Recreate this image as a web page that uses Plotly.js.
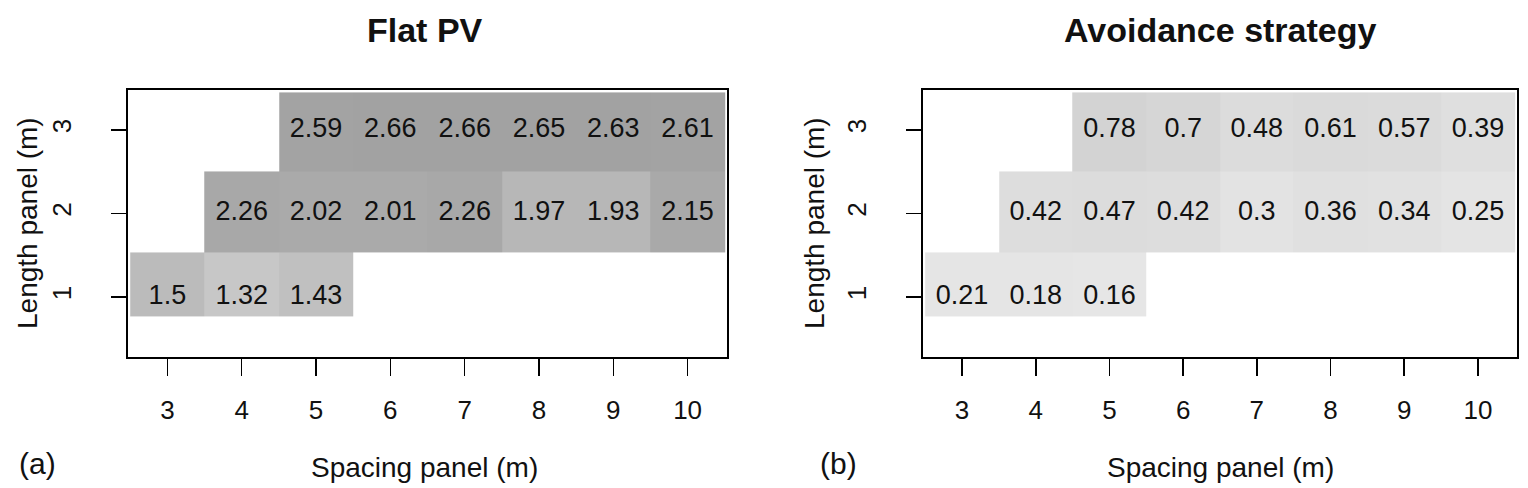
<!DOCTYPE html>
<html>
<head>
<meta charset="utf-8">
<script src="https://cdn.plot.ly/plotly-3.0.1.min.js"></script>
<style>
  html, body { margin: 0; padding: 0; background: #ffffff; }
  #chart { width: 1528px; height: 488px; }
</style>
</head>
<body>
<div id="chart"></div>
<script>
// ---------------- DATA ----------------
const spacing = [3, 4, 5, 6, 7, 8, 9, 10];            // Spacing panel (m)
const lengthRows = [1, 2, 3];                          // Length panel (m)
const xTickLabels = ['3', '4', '5', '6', '7', '8', '9', '10'];
const yTickLabels = ['1', '2', '3'];

const flatPV = [
  [1.5, 1.32, 1.43, null, null, null, null, null],
  [null, 2.26, 2.02, 2.01, 2.26, 1.97, 1.93, 2.15],
  [null, null, 2.59, 2.66, 2.66, 2.65, 2.63, 2.61]
];
const avoidance = [
  [0.21, 0.18, 0.16, null, null, null, null, null],
  [null, 0.42, 0.47, 0.42, 0.3, 0.36, 0.34, 0.25],
  [null, null, 0.78, 0.7, 0.48, 0.61, 0.57, 0.39]
];
const panelTitles = ['Flat PV', 'Avoidance strategy'];
const panelTags = ['(a)', '(b)'];
const xTitle = 'Spacing panel (m)';
const yTitle = 'Length panel (m)';

// ---------------- STYLE / LAYOUT ----------------
const W = 1528, H = 488;
const FONT = 'Liberation Sans, Arial, Helvetica, sans-serif';
const rowEdges = [0.77, 1.53, 2.5, 3.45];   // drawn band limits of the rows
const zMin = 0, zMax = 2.7;
const grayStops = [
  [0.00, '#e9e9e9'], [0.30, '#e3e3e3'], [0.45, '#dcdcdc'], [0.62, '#dadada'],
  [0.76, '#d3d3d3'], [1.30, '#c8c8c8'], [1.50, '#bbbbbb'], [1.97, '#b7b7b7'],
  [2.00, '#aaaaaa'], [2.30, '#a8a8a8'], [2.60, '#a3a3a3'], [2.70, '#a1a1a1']
];
const colorscale = grayStops.map(s => [(s[0] - zMin) / (zMax - zMin), s[1]]);

const px = v => v / W;
const py = v => 1 - v / H;
const panels = [
  { z: flatPV,    xd: [128, 727], cx: 425, ylx: 27,  tag: 37 },
  { z: avoidance, xd: [923, 1517], cx: 1220, ylx: 814, tag: 838 }
];
const yDomain = [py(357), py(90)];

const traces = [];
const layout = {
  width: W, height: H,
  margin: { l: 0, r: 0, t: 0, b: 0 },
  paper_bgcolor: '#ffffff', plot_bgcolor: '#ffffff',
  showlegend: false,
  font: { family: FONT, color: '#111111' },
  annotations: []
};

panels.forEach((p, k) => {
  const xa = k === 0 ? 'x' : 'x2';
  const ya = k === 0 ? 'y' : 'y2';
  traces.push({
    type: 'heatmap', x: spacing, y: rowEdges, z: p.z,
    xaxis: xa, yaxis: ya,
    colorscale: colorscale, zmin: zMin, zmax: zMax,
    showscale: false, hoverinfo: 'skip'
  });
  const tx = [], ty = [], tt = [];
  p.z.forEach((row, i) => row.forEach((v, j) => {
    if (v !== null) { tx.push(spacing[j]); ty.push(lengthRows[i]); tt.push(String(v)); }
  }));
  traces.push({
    type: 'scatter', mode: 'text', x: tx, y: ty, text: tt,
    textposition: 'middle center',
    textfont: { family: FONT, size: 27, color: '#111111' },
    xaxis: xa, yaxis: ya, hoverinfo: 'skip'
  });

  const axCommon = {
    showline: true, mirror: true, linecolor: '#000000', linewidth: 2,
    ticks: 'outside', tickcolor: '#000000', tickwidth: 1.5,
    showgrid: false, zeroline: false, fixedrange: true,
    tickfont: { family: FONT, size: 26, color: '#111111' }
  };
  layout[k === 0 ? 'xaxis' : 'xaxis2'] = Object.assign({}, axCommon, {
    domain: [px(p.xd[0]), px(p.xd[1])], range: [2.47, 10.53],
    tickmode: 'array', tickvals: spacing, ticktext: xTickLabels,
    ticklen: 17, ticklabelstandoff: 12, anchor: ya
  });
  layout[k === 0 ? 'yaxis' : 'yaxis2'] = Object.assign({}, axCommon, {
    domain: yDomain, range: [0.281, 3.479],
    tickmode: 'array', tickvals: lengthRows, ticktext: yTickLabels,
    tickangle: -90, ticklen: 15, ticklabelstandoff: 30, anchor: xa
  });

  layout.annotations.push(
    { text: '<b>' + panelTitles[k] + '</b>', xref: 'paper', yref: 'paper',
      x: px(p.cx), y: py(30), xanchor: 'center', yanchor: 'middle',
      showarrow: false, font: { family: FONT, size: 34, color: '#111111' } },
    { text: xTitle, xref: 'paper', yref: 'paper',
      x: px(p.cx), y: py(467), xanchor: 'center', yanchor: 'middle',
      showarrow: false, font: { family: FONT, size: 28, color: '#111111' } },
    { text: yTitle, xref: 'paper', yref: 'paper', textangle: -90,
      x: px(p.ylx), y: py(223), xanchor: 'center', yanchor: 'middle',
      showarrow: false, font: { family: FONT, size: 28, color: '#111111' } },
    { text: panelTags[k], xref: 'paper', yref: 'paper',
      x: px(p.tag), y: py(463), xanchor: 'center', yanchor: 'middle',
      showarrow: false, font: { family: FONT, size: 30, color: '#111111' } }
  );
});

Plotly.newPlot('chart', traces, layout, { staticPlot: true, displayModeBar: false });
</script>
</body>
</html>
